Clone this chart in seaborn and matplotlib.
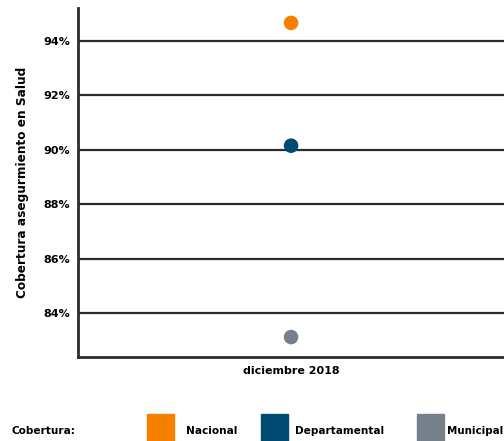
import pandas as pd
import matplotlib.pyplot as plt
import seaborn as sns
from matplotlib.patches import Rectangle
from matplotlib.ticker import FuncFormatter

periodo = ['diciembre 2018']
niveles = ['Nacional', 'Departamental', 'Municipal']
cobertura = [94.66, 90.15, 83.12]
colores = ['#F77F00', '#004B73', '#76808A']

df = pd.DataFrame({'periodo': periodo * 3, 'nivel': niveles, 'cobertura': cobertura})

sns.set_style('white')
plt.rcParams['font.family'] = ['DejaVu Sans']
plt.rcParams['font.weight'] = 'bold'
plt.rcParams['text.color'] = 'black'

fig = plt.figure(figsize=(5.04, 4.41), dpi=100)
ax = fig.add_axes([0.155, 0.19, 0.845, 0.792])

sns.scatterplot(data=df, x='periodo', y='cobertura', hue='nivel', palette=colores,
                s=110, edgecolor='none', legend=False, ax=ax, zorder=3)

ax.set_ylim(82.38, 95.21)
ax.set_xlim(-0.5, 0.5)
ax.set_yticks([84, 86, 88, 90, 92, 94])
ax.yaxis.set_major_formatter(FuncFormatter(lambda v, p: f'{v:.0f}%'))
ax.grid(axis='y', color='#2b2b2b', linewidth=1.6)
ax.set_axisbelow(True)
for s in ['top', 'right']:
    ax.spines[s].set_visible(False)
for s in ['left', 'bottom']:
    ax.spines[s].set_color('#2b2b2b')
    ax.spines[s].set_linewidth(2)
ax.tick_params(length=0, labelsize=8, pad=6, labelcolor='black')
for lab in ax.get_xticklabels() + ax.get_yticklabels():
    lab.set_fontweight('bold')
ax.set_xlabel('')
ax.set_ylabel('Cobertura asegurmiento en Salud', fontsize=8.7, fontweight='bold',
              labelpad=10, color='black')

# leyenda manual
W, H = 504, 441
fig.text(12 / W, 1 - 431 / H, 'Cobertura:', fontsize=7.6, fontweight='bold', va='center')
legend_x = [147, 261, 417]
text_x = [186, 295, 447]
for lx, tx, nombre, c in zip(legend_x, text_x, niveles, colores):
    fig.patches.append(Rectangle((lx / W, 0), 27 / W, 27 / H, transform=fig.transFigure,
                                 color=c, figure=fig))
    fig.text(tx / W, 1 - 431 / H, nombre, fontsize=7.4 if nombre == 'Municipal' else 7.6,
             fontweight='bold', va='center')

fig.savefig('out.png', dpi=100)
